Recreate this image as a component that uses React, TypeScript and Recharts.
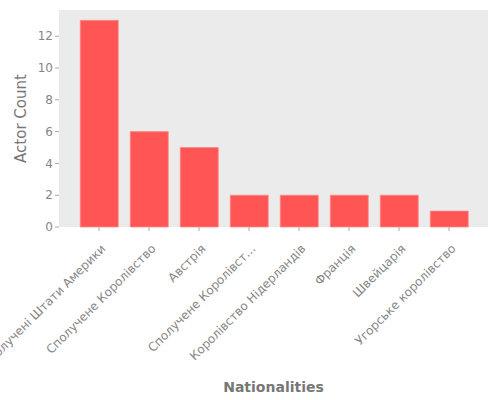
import React from 'react';
import { BarChart, Bar, XAxis, YAxis, CartesianGrid, Label } from 'recharts';

const categories = [
  'Сполучені Штати Америки',
  'Сполучене Королівство',
  'Австрія',
  'Сполучене Королівст…',
  'Королівство Нідерландів',
  'Франція',
  'Швейцарія',
  'Угорське королівство',
];
const actorCounts = [13, 6, 5, 2, 2, 2, 2, 1];
const yTicks = [0, 2, 4, 6, 8, 10, 12];

const data = categories.map((name, i) => ({ name, count: actorCounts[i] }));

const FONT = "'DejaVu Sans', sans-serif";
const TICK_TEXT = '#858585';
const LABEL_TEXT = '#777777';

const XTick = (props: any) => {
  const { x, y, payload } = props;
  return (
    <g transform={`translate(${x + 1},${y + 10})`}>
      <text
        transform="rotate(-45)"
        textAnchor="end"
        dy="0.75em"
        fontSize={12}
        fontFamily={FONT}
        fill={TICK_TEXT}
      >
        {payload.value}
      </text>
    </g>
  );
};

export default function App() {
  return (
    <div style={{ position: 'absolute', left: 0, top: 0, width: 500, height: 400, background: '#fff' }}>
      <BarChart
        width={500}
        height={400}
        data={data}
        margin={{ top: 10, right: 12, left: 0, bottom: 0 }}
        barCategoryGap="12.5%"
      >
        <rect x={59} y={10} width={429} height={217} fill="#ebebeb" />
        <CartesianGrid stroke="#ffffff" strokeWidth={1} vertical={false} fill="#ebebeb" />
        <XAxis
          dataKey="name"
          interval={0}
          height={173}
          padding={{ left: 15, right: 14 }}
          tick={<XTick />}
          tickSize={4}
          tickLine={{ stroke: '#aaa' }}
          axisLine={false}
        >
          <Label
            value="Nationalities"
            position="insideBottom"
            offset={8}
            style={{ fontFamily: FONT, fontSize: 14, fontWeight: 'bold', fill: LABEL_TEXT }}
          />
        </XAxis>
        <YAxis
          width={59}
          domain={[0, 13.65]}
          ticks={yTicks}
          tickSize={4}
          tickLine={{ stroke: '#aaa' }}
          axisLine={false}
          tick={{ fontSize: 12, fontFamily: FONT, fill: TICK_TEXT }}
        >
          <Label
            value="Actor Count"
            angle={-90}
            position="insideLeft"
            offset={21}
            style={{ fontFamily: FONT, fontSize: 15, fill: LABEL_TEXT, textAnchor: 'middle' }}
          />
        </YAxis>
        <Bar
          dataKey="count"
          fill="#ff5555"
          stroke="#ff8a8a"
          strokeWidth={0.8}
          isAnimationActive={false}
        />
      </BarChart>
    </div>
  );
}
